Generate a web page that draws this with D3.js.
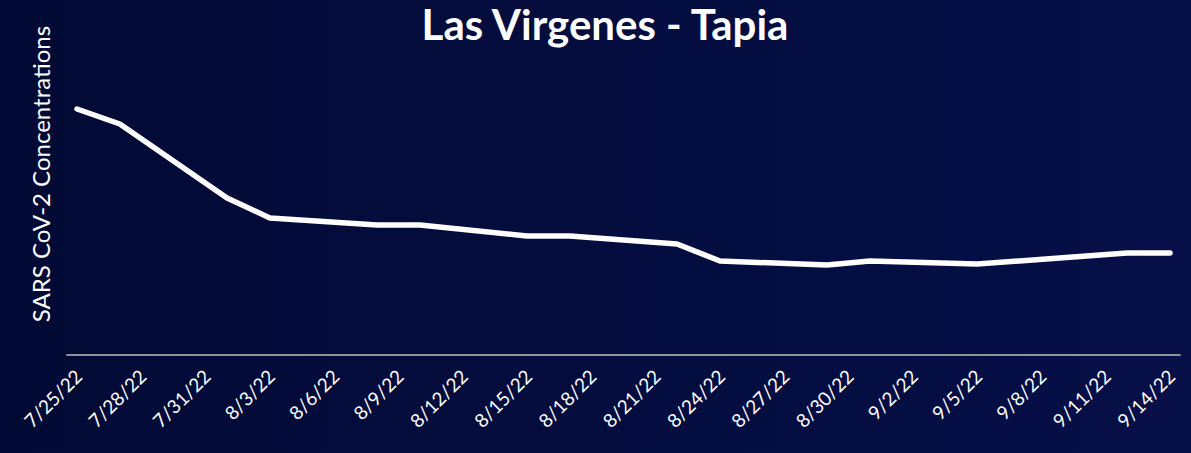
<!DOCTYPE html>
<html>
<head>
<meta charset="utf-8">
<script src="https://cdn.jsdelivr.net/npm/d3@7"></script>
<style>
  html, body { margin: 0; padding: 0; background: #030b3a; }
  svg { display: block; }
</style>
</head>
<body>
<div id="chart"></div>
<script>
// sample dates and concentrations (arbitrary units)
const dates = ['2022-07-25', '2022-07-27', '2022-08-01', '2022-08-03', '2022-08-08', '2022-08-10',
    '2022-08-15', '2022-08-17', '2022-08-22', '2022-08-24', '2022-08-29', '2022-08-31',
    '2022-09-05', '2022-09-12', '2022-09-14'];
const values = [246, 231, 157, 137, 130, 130, 119, 119, 111, 94, 90, 94, 91, 102, 102];

// x axis tick labels, every third day
const tickDates = ['2022-07-25', '2022-07-28', '2022-07-31', '2022-08-03', '2022-08-06', '2022-08-09',
    '2022-08-12', '2022-08-15', '2022-08-18', '2022-08-21', '2022-08-24', '2022-08-27',
    '2022-08-30', '2022-09-02', '2022-09-05', '2022-09-08', '2022-09-11', '2022-09-14'];

const title = 'Las Virgenes - Tapia';
const yTitle = 'SARS CoV-2 Concentrations';

const width = 1191;
const height = 453;
const parse = d3.utcParse('%Y-%m-%d');
const fmt = d3.utcFormat('%-m/%-d/%y');
const day = 24 * 3600 * 1000;

const svg = d3.select('#chart')
    .append('svg')
    .attr('width', width)
    .attr('height', height);

// background gradient
const grad = svg.append('defs').append('linearGradient')
    .attr('id', 'bg')
    .attr('x1', '0%').attr('y1', '0%')
    .attr('x2', '100%').attr('y2', '0%');
grad.append('stop').attr('offset', '0%').attr('stop-color', '#010a34');
grad.append('stop').attr('offset', '100%').attr('stop-color', '#060f47');
svg.append('rect')
    .attr('width', width)
    .attr('height', height)
    .attr('fill', 'url(#bg)');

const data = dates.map((d, i) => ({ date: parse(d), value: values[i] }));
const first = parse(tickDates[0]);
const last = parse(tickDates[tickDates.length - 1]);

const x = d3.scaleUtc()
    .domain([first, last])
    .range([77, 1170]);
const y = d3.scaleLinear()
    .domain([0, 300])
    .range([355, 55]);

// title
svg.append('text')
    .attr('x', 605)
    .attr('y', 40)
    .attr('text-anchor', 'middle')
    .attr('font-family', 'Lato, sans-serif')
    .attr('font-weight', 'bold')
    .attr('font-size', 42)
    .attr('fill', '#ffffff')
    .text(title);

// y axis title
svg.append('text')
    .attr('transform', 'translate(50, 174) rotate(-90)')
    .attr('text-anchor', 'middle')
    .attr('font-family', 'Lato, sans-serif')
    .attr('font-size', 24)
    .attr('fill', '#ffffff')
    .text(yTitle);

// x axis
const xAxis = d3.axisBottom(x)
    .tickValues(tickDates.map(parse))
    .tickFormat(fmt)
    .tickSize(0)
    .tickPadding(0);
const gx = svg.append('g')
    .attr('transform', `translate(0, ${y(0)})`)
    .call(xAxis);
gx.select('.domain').remove();
gx.selectAll('.tick text')
    .attr('font-family', 'Lato, sans-serif')
    .attr('font-size', 19)
    .attr('fill', '#ffffff')
    .attr('text-anchor', 'end')
    .attr('dy', 0)
    .attr('transform', 'translate(6, 23) rotate(-45)');

// axis baseline, half a day beyond the first and last dates
svg.append('line')
    .attr('x1', x(new Date(+first - day / 2)))
    .attr('x2', x(new Date(+last + day / 2)))
    .attr('y1', y(0))
    .attr('y2', y(0))
    .attr('stroke', '#bfbfbf')
    .attr('stroke-width', 1.5);

// the series line
const line = d3.line()
    .x(d => x(d.date))
    .y(d => y(d.value));
svg.append('path')
    .datum(data)
    .attr('d', line)
    .attr('fill', 'none')
    .attr('stroke', '#ffffff')
    .attr('stroke-width', 5.5)
    .attr('stroke-linecap', 'round')
    .attr('stroke-linejoin', 'round');
</script>
</body>
</html>
